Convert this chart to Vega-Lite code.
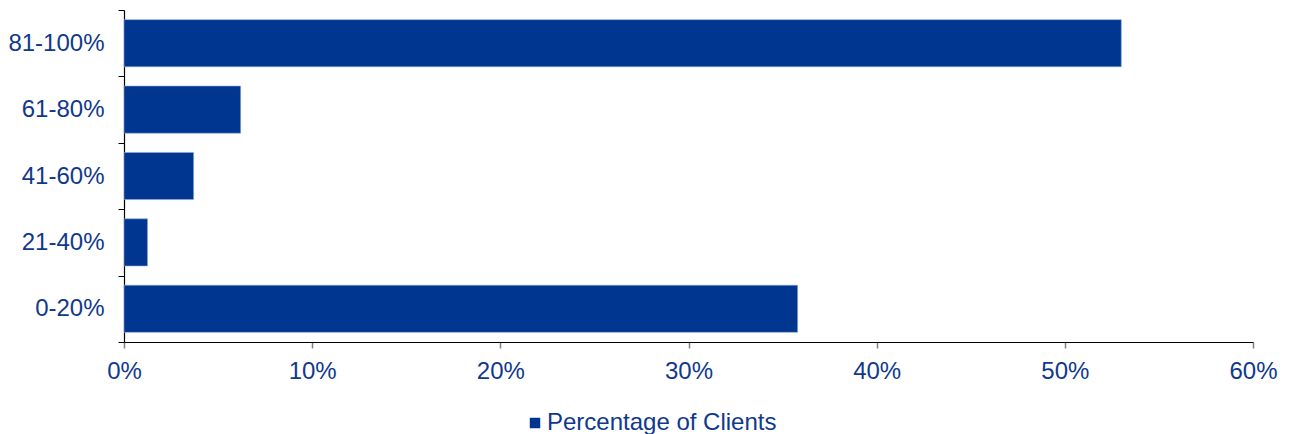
{
  "$schema": "https://vega.github.io/schema/vega-lite/v6.json",
  "autosize": "none",
  "width": 1129,
  "height": 332,
  "padding": {"left": 124, "top": 10, "right": 39, "bottom": 92},
  "background": "white",
  "config": {
    "view": {"stroke": null},
    "font": "Liberation Sans"
  },
  "data": {
    "values": [
      {"range": "81-100%", "value": 0.530, "series": "Percentage of Clients"},
      {"range": "61-80%", "value": 0.062, "series": "Percentage of Clients"},
      {"range": "41-60%", "value": 0.037, "series": "Percentage of Clients"},
      {"range": "21-40%", "value": 0.0125, "series": "Percentage of Clients"},
      {"range": "0-20%", "value": 0.358, "series": "Percentage of Clients"}
    ]
  },
  "mark": {"type": "bar", "height": {"band": 0.71}, "stroke": "#8fa6d6", "strokeWidth": 0.6},
  "encoding": {
    "y": {
      "field": "range",
      "type": "nominal",
      "sort": ["81-100%", "61-80%", "41-60%", "21-40%", "0-20%"],
      "scale": {"paddingInner": 0, "paddingOuter": 0},
      "axis": {
        "title": null,
        "tickBand": "extent",
        "domainColor": "#000000",
        "domainWidth": 1.2,
        "tickColor": "#000000",
        "tickSize": 6,
        "labelFont": "Liberation Sans",
        "labelFontSize": 24,
        "labelColor": "#10398c",
        "labelPadding": 14
      }
    },
    "x": {
      "field": "value",
      "type": "quantitative",
      "scale": {"domain": [0, 0.6], "nice": false},
      "axis": {
        "title": null,
        "format": ".0%",
        "values": [0, 0.1, 0.2, 0.3, 0.4, 0.5, 0.6],
        "grid": false,
        "domainColor": "#000000",
        "domainWidth": 1.2,
        "tickColor": "#808080",
        "tickSize": 6,
        "tickWidth": 1.5,
        "labelFont": "Liberation Sans",
        "labelFontSize": 24,
        "labelColor": "#10398c",
        "labelPadding": 11,
        "labelFlush": false
      }
    },
    "color": {
      "field": "series",
      "type": "nominal",
      "scale": {"range": ["#00368f"]},
      "legend": {
        "title": null,
        "orient": "none",
        "legendX": 399,
        "legendY": 401,
        "padding": 0,
        "symbolType": "square",
        "symbolSize": 110,
        "symbolStrokeWidth": 0,
        "labelFont": "Liberation Sans",
        "labelFontSize": 24,
        "labelColor": "#10398c",
        "labelOffset": 0,
        "labelLimit": 0
      }
    }
  }
}
